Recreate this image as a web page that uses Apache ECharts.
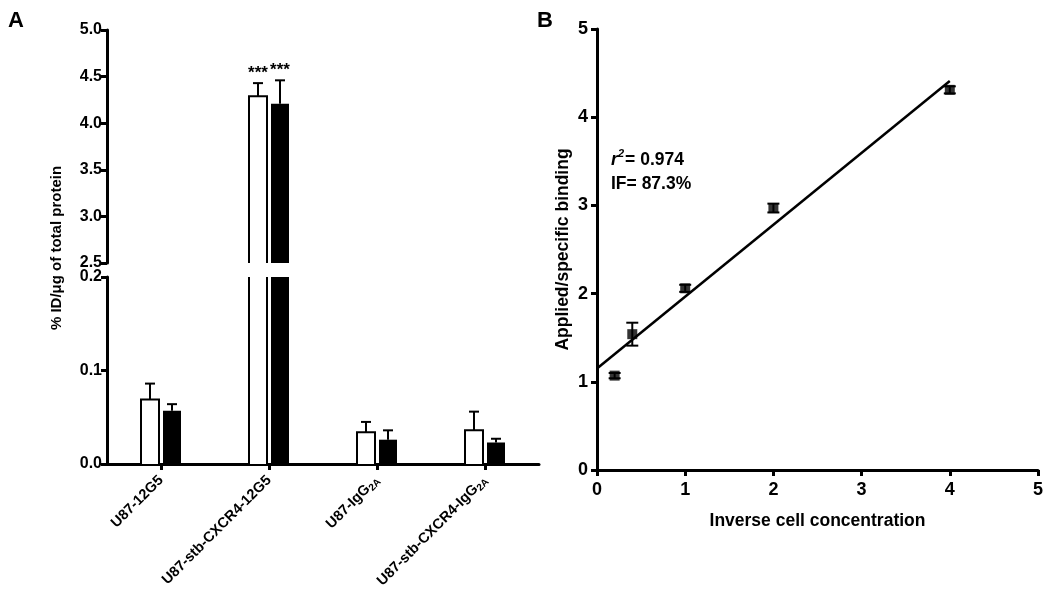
<!DOCTYPE html>
<html>
<head>
<meta charset="utf-8">
<script src="https://cdn.jsdelivr.net/npm/echarts@6/dist/echarts.min.js"></script>
<style>
html, body { margin: 0; padding: 0; background: #fff; }
#main { width: 1050px; height: 598px; }
</style>
</head>
<body>
<div id="main"></div>
<script>
// panel A: uptake per cell line (open = white bars, filled = black bars)
var cellLines = ['U87-12G5', 'U87-stb-CXCR4-12G5', 'U87-IgG2A', 'U87-stb-CXCR4-IgG2A'];
var openVals = [0.069, 4.29, 0.034, 0.036];
var openErr = [0.017, 0.14, 0.011, 0.020];
var filledVals = [0.057, 4.21, 0.026, 0.023];
var filledErr = [0.007, 0.25, 0.010, 0.004];
var openSig = ['', '***', '', ''];
var filledSig = ['', '***', '', ''];

// panel B: applied/specific binding vs inverse cell concentration
var invConc = [0.2, 0.4, 1, 2, 4];
var binding = [1.07, 1.54, 2.06, 2.97, 4.31];
var bindingErr = [0.03, 0.13, 0.04, 0.05, 0.04];
var fitX = [0, 4];
var fitY = [1.15, 4.41];

var FONT = "'Liberation Sans', Arial, Helvetica, sans-serif";

var chart = echarts.init(document.getElementById('main'));

function barItems(vals, errs) {
    return vals.map(function (v, i) { return [i, v, errs[i]]; });
}

function sigFor(name, idx) {
    return name === 'open' ? openSig[idx] : filledSig[idx];
}

// bar cut at the axis break (open where it is cut) plus its error bar
function barRenderer(offset, fill) {
    return function (params, api) {
        var cs = params.coordSys;
        var i = api.value(0), v = api.value(1), e = api.value(2);
        var top = api.coord([i, v]);
        var base = api.coord([i, 0]);
        var cx = top[0] + offset;
        var half = 9;
        var gTop = cs.y, gBot = cs.y + cs.height;
        var yTop = Math.max(top[1], gTop);
        var yBot = Math.min(base[1], gBot);
        if (yTop >= yBot) return null;
        var closedTop = top[1] >= gTop;
        var children = [{
            type: 'rect',
            shape: { x: cx - half, y: yTop, width: half * 2, height: yBot - yTop },
            style: { fill: fill, stroke: null }
        }];
        if (fill !== '#000') {
            if (closedTop) {
                children.push({ type: 'polyline',
                    shape: { points: [[cx - half, yBot], [cx - half, yTop], [cx + half, yTop], [cx + half, yBot]] },
                    style: { stroke: '#000', lineWidth: 2, fill: null } });
            } else {
                children.push({ type: 'line', shape: { x1: cx - half, y1: yTop, x2: cx - half, y2: yBot },
                    style: { stroke: '#000', lineWidth: 2 } });
                children.push({ type: 'line', shape: { x1: cx + half, y1: yTop, x2: cx + half, y2: yBot },
                    style: { stroke: '#000', lineWidth: 2 } });
            }
        }
        if (closedTop) {
            var et = api.coord([i, v + e]);
            if (et[1] >= gTop) {
                children.push({ type: 'line', shape: { x1: cx, y1: top[1], x2: cx, y2: et[1] },
                    style: { stroke: '#000', lineWidth: 2 } });
                children.push({ type: 'line', shape: { x1: cx - 5, y1: et[1], x2: cx + 5, y2: et[1] },
                    style: { stroke: '#000', lineWidth: 2 } });
                var s = sigFor(params.seriesName, params.dataIndex);
                if (s) {
                    children.push({ type: 'text', x: cx, y: et[1] - 10,
                        style: { text: s, fill: '#000', font: 'bold 17px ' + FONT,
                            align: 'center', verticalAlign: 'middle' } });
                }
            }
        }
        return { type: 'group', children: children };
    };
}

var axisLine = { show: true, lineStyle: { color: '#000', width: 3 } };
var axisTick = { show: true, length: 6, lineStyle: { color: '#000', width: 3 } };
var tickFontA = { color: '#000', fontSize: 16, fontWeight: 'bold', fontFamily: FONT, margin: 5,
    formatter: function (v) { return v.toFixed(1); } };
var tickFontB = { color: '#000', fontSize: 18, fontWeight: 'bold', fontFamily: FONT };
var nameFontB = { fontSize: 17.5, fontWeight: 'bold', fontFamily: FONT, color: '#000' };

chart.setOption({
    animation: false,
    title: [
        { text: 'A', left: 3, top: 5, textStyle: { fontSize: 22, fontWeight: 'bold', fontFamily: FONT, color: '#000' } },
        { text: 'B', left: 532, top: 5, textStyle: { fontSize: 22, fontWeight: 'bold', fontFamily: FONT, color: '#000' } },
        {
            text: '{i|r}{s|2}{n|= 0.974}\n{n|IF= 87.3%}',
            left: 606, top: 143,
            textStyle: {
                lineHeight: 24,
                rich: {
                    i: { fontSize: 18, fontWeight: 'bold', fontStyle: 'italic', fontFamily: FONT, color: '#000', lineHeight: 24 },
                    s: { fontSize: 11, fontWeight: 'bold', fontStyle: 'italic', fontFamily: FONT, color: '#000', verticalAlign: 'top', lineHeight: 24, padding: [0, 1, 10, 0] },
                    n: { fontSize: 17.5, fontWeight: 'bold', fontFamily: FONT, color: '#000', lineHeight: 24 }
                }
            }
        }
    ],
    graphic: [{
        type: 'text', x: 57, y: 248, rotation: Math.PI / 2,
        style: { text: '% ID/\u03bcg of total protein', fill: '#000', font: 'bold 15px ' + FONT,
            align: 'center', verticalAlign: 'middle' }
    }],
    grid: [
        { left: 107, width: 432, top: 30, height: 233 },
        { left: 107, width: 432, top: 277, height: 187 },
        { left: 597, width: 441, top: 29, height: 441 }
    ],
    xAxis: [
        { gridIndex: 0, type: 'category', data: cellLines, show: false },
        {
            gridIndex: 1, type: 'category', data: cellLines,
            axisLine: axisLine,
            axisTick: { show: true, alignWithLabel: true, length: 6, lineStyle: { color: '#000', width: 3 } },
            axisLabel: {
                interval: 0, rotate: 45, margin: 14, color: '#000',
                fontSize: 14.5, fontWeight: 'bold', fontFamily: FONT,
                formatter: function (v) { return v.replace(/IgG2A$/, 'IgG{sub|2A}'); },
                rich: { sub: { fontSize: 10, fontWeight: 'bold', fontFamily: FONT, color: '#000', padding: [7, 0, 0, 0] } }
            },
            splitLine: { show: false }
        },
        {
            gridIndex: 2, type: 'value', min: 0, max: 5, interval: 1,
            name: 'Inverse cell concentration', nameLocation: 'middle', nameGap: 42,
            nameTextStyle: nameFontB,
            axisLine: axisLine, axisTick: axisTick,
            axisLabel: Object.assign({ margin: 11 }, tickFontB),
            splitLine: { show: false }
        }
    ],
    yAxis: [
        {
            gridIndex: 0, type: 'value', min: 2.5, max: 5, interval: 0.5,
            axisLine: axisLine, axisTick: axisTick, axisLabel: tickFontA,
            splitLine: { show: false }
        },
        {
            gridIndex: 1, type: 'value', min: 0, max: 0.2, interval: 0.1,
            axisLine: axisLine, axisTick: axisTick, axisLabel: tickFontA,
            splitLine: { show: false }
        },
        {
            gridIndex: 2, type: 'value', min: 0, max: 5, interval: 1,
            name: 'Applied/specific binding', nameLocation: 'middle', nameGap: 25,
            nameTextStyle: nameFontB,
            axisLine: axisLine, axisTick: axisTick,
            axisLabel: Object.assign({ margin: 9 }, tickFontB),
            splitLine: { show: false }
        }
    ],
    series: [
        { name: 'open', type: 'custom', xAxisIndex: 0, yAxisIndex: 0, renderItem: barRenderer(-11, '#fff'), data: barItems(openVals, openErr) },
        { name: 'filled', type: 'custom', xAxisIndex: 0, yAxisIndex: 0, renderItem: barRenderer(11, '#000'), data: barItems(filledVals, filledErr) },
        { name: 'open', type: 'custom', xAxisIndex: 1, yAxisIndex: 1, renderItem: barRenderer(-11, '#fff'), data: barItems(openVals, openErr) },
        { name: 'filled', type: 'custom', xAxisIndex: 1, yAxisIndex: 1, renderItem: barRenderer(11, '#000'), data: barItems(filledVals, filledErr) },
        {
            type: 'line', xAxisIndex: 2, yAxisIndex: 2, showSymbol: false, symbol: 'none',
            lineStyle: { color: '#000', width: 2.5 },
            data: fitX.map(function (x, i) { return [x, fitY[i]]; })
        },
        {
            type: 'custom', xAxisIndex: 2, yAxisIndex: 2,
            renderItem: function (params, api) {
                var x = api.value(0), y = api.value(1), e = api.value(2);
                var hi = api.coord([x, y + e]), lo = api.coord([x, y - e]);
                return { type: 'group', children: [
                    { type: 'line', shape: { x1: hi[0], y1: hi[1], x2: lo[0], y2: lo[1] }, style: { stroke: '#000', lineWidth: 2 } },
                    { type: 'line', shape: { x1: hi[0] - 6, y1: hi[1], x2: hi[0] + 6, y2: hi[1] }, style: { stroke: '#000', lineWidth: 2 } },
                    { type: 'line', shape: { x1: lo[0] - 6, y1: lo[1], x2: lo[0] + 6, y2: lo[1] }, style: { stroke: '#000', lineWidth: 2 } }
                ] };
            },
            data: invConc.map(function (x, i) { return [x, binding[i], bindingErr[i]]; })
        },
        {
            type: 'scatter', xAxisIndex: 2, yAxisIndex: 2, symbol: 'rect', symbolSize: 10,
            itemStyle: { color: '#000' },
            data: invConc.map(function (x, i) { return [x, binding[i]]; })
        }
    ]
});
</script>
</body>
</html>
